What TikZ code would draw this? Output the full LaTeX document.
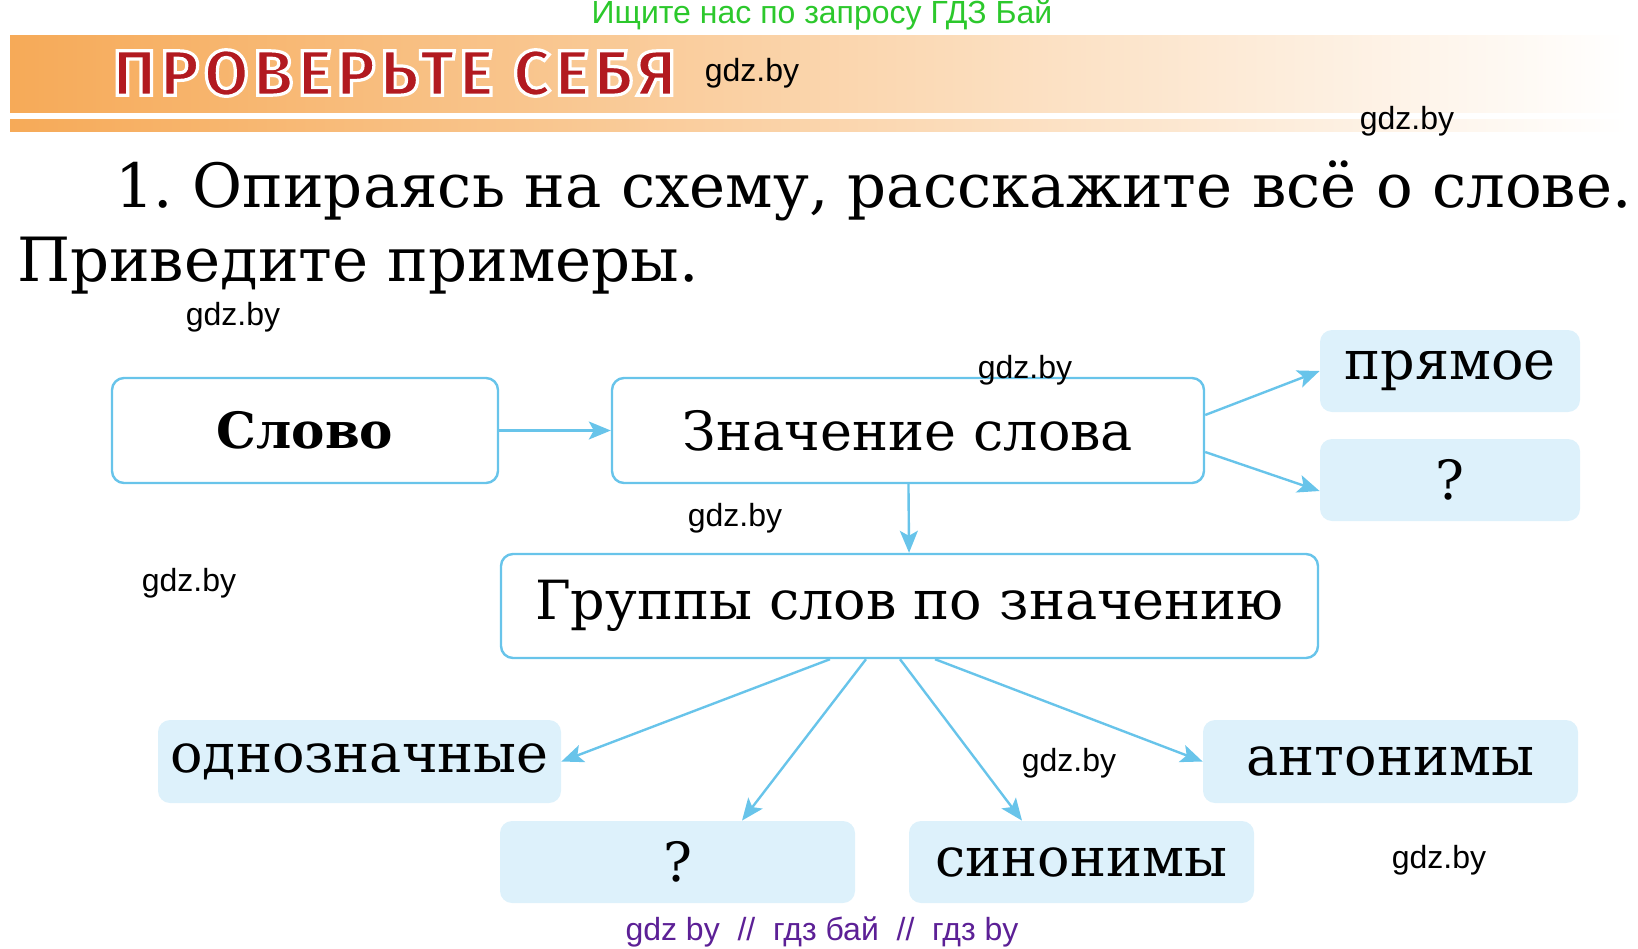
\documentclass[tikz,border=0pt]{standalone}
\usepackage{fontspec}
\setmainfont{DejaVu Serif}
\newfontfamily\wmfont{Liberation Sans}
\newfontfamily\titlefont[LetterSpace=8]{Fira Sans}
\usetikzlibrary{graphs}
\usetikzlibrary{arrows.meta}
\definecolor{schemeblue}{RGB}{104,196,234}
\definecolor{schemefill}{RGB}{221,241,251}
\definecolor{bandorange}{RGB}{246,170,88}
\definecolor{titlered}{RGB}{178,26,32}
\definecolor{wmgreen}{RGB}{44,200,44}
\definecolor{wmpurple}{RGB}{92,32,150}
\newcommand{\boxfont}{\fontsize{27}{30}\selectfont}
\newcommand{\outlined}[1]{\special{pdf:literal direct 1 1 1 RG 1.6 w 2 Tr}#1\special{pdf:literal direct 0 Tr}}
\frenchspacing
\tikzset{
  framebox/.style={draw=schemeblue, line width=1.2pt, rounded corners=6pt, fill=white, font=\boxfont, inner sep=0pt},
  fillbox/.style={fill=schemefill, rounded corners=6pt, font=\boxfont, inner sep=0pt},
  link/.style={draw=schemeblue, line width=1.2pt, ->},
  wmark/.style={font=\wmfont\fontsize{16}{18}\selectfont},
  titletext/.style={anchor=west, font=\titlefont\bfseries\fontsize{32}{36}\selectfont},
  tasktext/.style={anchor=base west, font=\fontsize{30.5}{34}\selectfont},
}

\begin{document}
\begin{tikzpicture}[x=0.5pt, y=-0.5pt, >={Stealth[length=11pt,width=9pt,inset=2.5pt]}]
  \useasboundingbox (0,0) rectangle (1638,948);
  % header
  \node[wmark, text=wmgreen] (search) at (822,15) {Ищите нас по запросу ГДЗ Бай};
  \shade[left color=bandorange, middle color=bandorange!50, right color=white] (10,35) rectangle (1628,131);
  \fill[white] (10,113) rectangle (1628,119);
  \node[titletext, text=titlered] (title) at (106,73) {\outlined{ПРОВЕРЬТЕ СЕБЯ}};

  % task
  \node[tasktext] (task1) at (108,207) {1. Опираясь на схему, расскажите всё о слове.};
  \node[tasktext] (task2) at (10,281) {Приведите примеры.};

  % scheme
  \graph [no placement, edges={link}]
  {
    slovo/"\textbf{\fontsize{25}{30}\selectfont Слово}" [framebox, minimum width=193pt, minimum height=52.5pt, at={(305,430.5)}] ->
    znach/"Значение слова" [framebox, minimum width=296pt, minimum height=52.5pt, at={(908,430.5)}] ->
    gruppy/"Группы слов по значению" [framebox, minimum width=408.5pt, minimum height=52pt, at={(909.5,606)}];
    pryam/"прямое" [fillbox, minimum width=130pt, minimum height=41pt, at={(1450,371)}];
    perenos/"?" [fillbox, minimum width=130pt, minimum height=41pt, at={(1450,480)}];
    odnozn/"однозначные" [fillbox, minimum width=201.5pt, minimum height=41.5pt, at={(359.5,761.5)}];
    mnogozn/"?" [fillbox, minimum width=177.5pt, minimum height=41pt, at={(677.5,862)}];
    sinon/"синонимы" [fillbox, minimum width=172.5pt, minimum height=41pt, at={(1081.5,862)}];
    anton/"антонимы" [fillbox, minimum width=187.5pt, minimum height=41.5pt, at={(1390.5,761.5)}];
  };
  \draw[link] ([yshift=7.75pt]znach.east) -- (pryam.west);
  \draw[link] ([yshift=-10.75pt]znach.east) -- ([yshift=-5.5pt]perenos.west);
  \draw[link] ([xshift=-39.75pt]gruppy.south) -- (odnozn.east);
  \draw[link] ([xshift=-21.75pt]gruppy.south) -- ([xshift=32.25pt]mnogozn.north);
  \draw[link] ([xshift=-4.75pt]gruppy.south) -- ([xshift=-29.75pt]sinon.north);
  \draw[link] ([xshift=12.75pt]gruppy.south) -- (anton.west);

  % watermarks
  \node[wmark] (wm1) at (752,73) {gdz.by};
  \node[wmark] (wm2) at (1407,121) {gdz.by};
  \node[wmark] (wm3) at (233,317) {gdz.by};
  \node[wmark] (wm4) at (1025,370) {gdz.by};
  \node[wmark] (wm5) at (735,518) {gdz.by};
  \node[wmark] (wm6) at (189,583) {gdz.by};
  \node[wmark] (wm7) at (1069,763) {gdz.by};
  \node[wmark] (wm8) at (1439,860) {gdz.by};
  \node[wmark, text=wmpurple] (wmbottom) at (822,932) {gdz by~~//~~гдз бай~~//~~гдз by};
\end{tikzpicture}
\end{document}
